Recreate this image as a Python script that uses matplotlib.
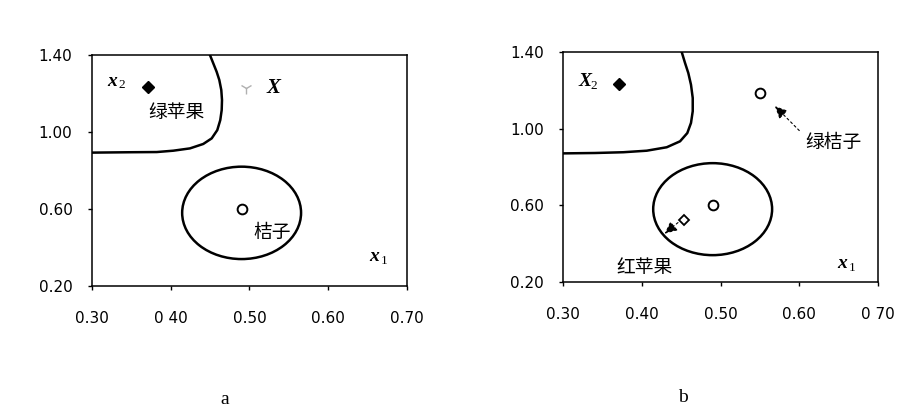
import matplotlib.pyplot as plt
from matplotlib.patches import Ellipse

# axis setup
x_ticks = [0.30, 0.40, 0.50, 0.60, 0.70]
y_ticks = [0.20, 0.60, 1.00, 1.40]
y_tick_labels = ['0.20', '0.60', '1.00', '1.40']
a_x_tick_labels = ['0.30', '0 40', '0.50', '0.60', '0.70']
b_x_tick_labels = ['0.30', '0.40', '0.50', '0.60', '0 70']

# decision boundary
a_boundary_x = [0.4498, 0.4540, 0.4583, 0.4617, 0.4642, 0.4651, 0.4647, 0.4629,
                0.4591, 0.4520, 0.4413, 0.4244, 0.4032, 0.3822, 0.3483, 0.3000]
a_boundary_y = [1.400, 1.357, 1.313, 1.270, 1.218, 1.166, 1.114, 1.062,
                1.010, 0.967, 0.938, 0.915, 0.903, 0.896, 0.895, 0.893]
b_boundary_x = [0.4507, 0.4549, 0.4591, 0.4625, 0.4647, 0.4647, 0.4625, 0.4578,
                0.4486, 0.4317, 0.4063, 0.3766, 0.3406, 0.3000]
b_boundary_y = [1.400, 1.343, 1.290, 1.229, 1.160, 1.091, 1.030, 0.977,
                0.934, 0.903, 0.885, 0.877, 0.873, 0.871]

# orange region (ellipse)
ell_center = (0.49, 0.58)
ell_width = 0.151
ell_height = 0.48

# points
apple_pt = (0.371, 1.235)
orange_pt = (0.491, 0.602)
unknown_pt = (0.495, 1.228)
green_orange_pt = (0.550, 1.184)
red_apple_pt = (0.454, 0.524)

# arrows (tail, head)
arrow_green = ((0.600, 0.990), (0.569, 1.118))
arrow_red = ((0.446, 0.510), (0.429, 0.452))

plt.rcParams['font.family'] = ['DejaVu Sans']
cjk = ['Noto Sans CJK SC', 'DejaVu Sans']
serif = 'Liberation Serif'

fig = plt.figure(figsize=(9.01, 4.11), dpi=100)
ax_a = fig.add_axes([0.1021, 0.3041, 0.3496, 0.5620])
ax_b = fig.add_axes([0.6249, 0.3139, 0.3496, 0.5596])


def setup(ax, xlabels):
    ax.set_xlim(0.30, 0.70)
    ax.set_ylim(0.20, 1.40)
    ax.set_xticks(x_ticks)
    ax.set_xticklabels(xlabels)
    ax.set_yticks(y_ticks)
    ax.set_yticklabels(y_tick_labels)
    ax.tick_params(direction='out', length=3, width=1, labelsize=11, colors='black')
    ax.tick_params(axis='x', pad=15)
    ax.tick_params(axis='y', pad=11)
    for s in ax.spines.values():
        s.set_linewidth(1.1)


def sub_label(ax, x, y, main, sub):
    ax.text(x, y, main, fontfamily=serif, fontweight='bold', fontstyle='italic',
            fontsize=14, ha='left', va='center')
    ax.annotate(sub, xy=(x, y), xytext=(8.5, -3), textcoords='offset points',
                fontfamily=serif, fontsize=9.5, ha='left', va='center')


# ---- panel a
setup(ax_a, a_x_tick_labels)
ax_a.plot(a_boundary_x, a_boundary_y, color='black', lw=1.8, solid_joinstyle='round')
ax_a.add_patch(Ellipse(ell_center, ell_width, ell_height, fill=False, ec='black', lw=1.8))
ax_a.plot(*apple_pt, marker='D', ms=6, color='black', ls='none')
ax_a.plot(*orange_pt, marker='o', ms=7, mfc='white', mec='black', mew=1.4, ls='none')
ax_a.plot(*unknown_pt, marker='1', ms=9, color='#b0b0b0', ls='none')
sub_label(ax_a, 0.319, 1.265, 'x', '2')
sub_label(ax_a, 0.652, 0.352, 'x', '1')
ax_a.text(0.530, 1.228, 'X', fontfamily=serif, fontweight='bold', fontstyle='italic',
          fontsize=15, ha='center', va='center')
ax_a.text(0.4075, 1.100, '绿苹果', family=cjk, fontsize=13.5, ha='center', va='center')
ax_a.text(0.529, 0.478, '桔子', family=cjk, fontsize=13.5, ha='center', va='center')

# ---- panel b
setup(ax_b, b_x_tick_labels)
ax_b.plot(b_boundary_x, b_boundary_y, color='black', lw=1.8, solid_joinstyle='round')
ax_b.add_patch(Ellipse(ell_center, ell_width, ell_height, fill=False, ec='black', lw=1.8))
ax_b.plot(*apple_pt, marker='D', ms=6, color='black', ls='none')
ax_b.plot(*orange_pt, marker='o', ms=7, mfc='white', mec='black', mew=1.4, ls='none')
ax_b.plot(*green_orange_pt, marker='o', ms=7, mfc='white', mec='black', mew=1.4, ls='none')
ax_b.plot(*red_apple_pt, marker='D', ms=5.5, mfc='white', mec='black', mew=1.3, ls='none')
sub_label(ax_b, 0.320, 1.245, 'X', '2')
sub_label(ax_b, 0.648, 0.297, 'x', '1')
ax_b.text(0.643, 0.930, '绿桔子', family=cjk, fontsize=13.5, ha='center', va='center')
ax_b.text(0.404, 0.275, '红苹果', family=cjk, fontsize=13.5, ha='center', va='center')
for tail, head in [arrow_green, arrow_red]:
    ax_b.annotate('', xy=head, xytext=tail,
                  arrowprops=dict(arrowstyle='-|>,head_length=0.75,head_width=0.35',
                                  color='black', lw=0.8, ls=(0, (2, 2.5)),
                                  shrinkA=0, shrinkB=0))

# captions
fig.text(0.2497, 0.008, 'a', fontfamily=serif, fontsize=14, ha='center', va='bottom')
fig.text(0.7580, 0.012, 'b', fontfamily=serif, fontsize=14, ha='center', va='bottom')

fig.savefig('out.png', dpi=100)
